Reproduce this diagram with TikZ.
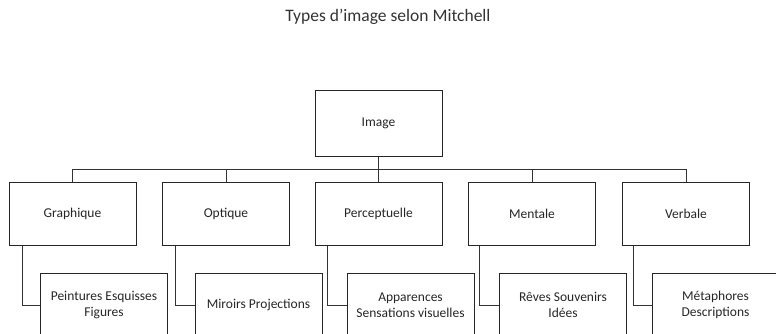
\documentclass[tikz,border=0pt]{standalone}
\usepackage{fontspec}
\setmainfont{Carlito}
\begin{document}
\begin{tikzpicture}[x=1pt,y=-1pt,
  box/.style={draw=black!85,line width=1pt,rectangle,minimum width=127pt,minimum height=64pt,inner sep=2pt,
    align=center,font=\fontsize{13.5}{16}\selectfont,text=black!85},
  link/.style={draw=black!80,line width=1pt}]
\useasboundingbox (0,0) rectangle (776,334);
\node[font=\fontsize{17.5}{20}\selectfont,text=black!80] (title) at (388,17) {Types d’image selon Mitchell};
\node[box,minimum height=65pt] (img) at (378.5,123.5) {Image};
\node[box,minimum height=63pt] (g) at (72.5,213.5) {Graphique};
\node[box,minimum height=63pt] (o) at (226,213.5) {Optique};
\node[box,minimum height=63pt] (p) at (378.5,213.5) {Perceptuelle};
\node[box,minimum height=63pt] (m) at (532,213.5) {Mentale};
\node[box,minimum height=63pt] (v) at (686,213.5) {Verbale};
\node[box] (gs) at (104,305) {Peintures Esquisses\\Figures};
\node[box] (os) at (258.5,305) {Miroirs Projections};
\node[box] (ps) at (410.5,305) {Apparences\\Sensations visuelles};
\node[box] (ms) at (563,305) {Rêves Souvenirs\\Idées};
\node[box] (vs) at (715.5,305) {Métaphores\\Descriptions};
\coordinate (bus) at (378.5,169);
\draw[link] (img.south) -- (bus);
\foreach \c in {g,o,p,m,v} {\draw[link] (\c.north) |- (bus);}
\draw[link] ([xshift=14pt]g.south west) |- (gs.west);
\draw[link] ([xshift=13pt]o.south west) |- (os.west);
\draw[link] ([xshift=13pt]p.south west) |- (ps.west);
\draw[link] ([xshift=11pt]m.south west) |- (ms.west);
\draw[link] ([xshift=11pt]v.south west) |- (vs.west);
\end{tikzpicture}
\end{document}
